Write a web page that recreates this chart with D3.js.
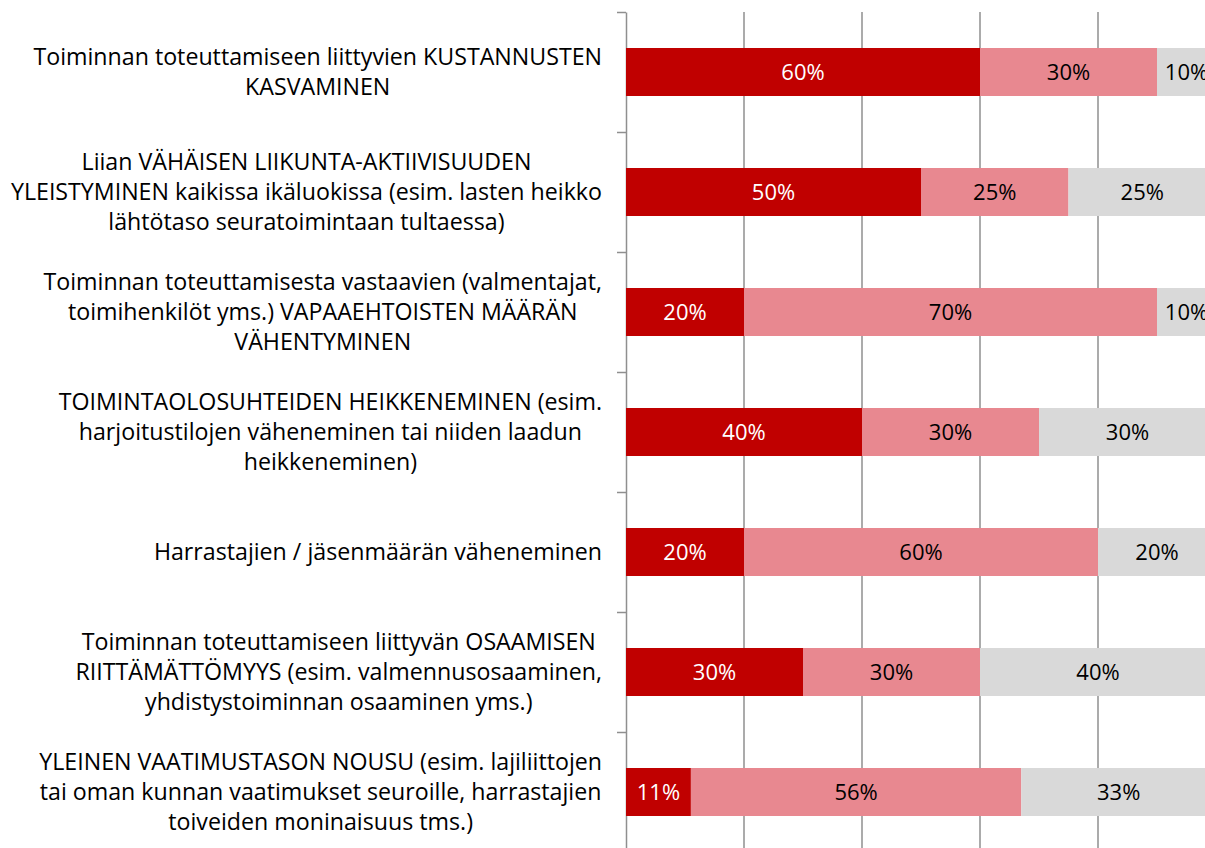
<!DOCTYPE html>
<html>
<head>
<meta charset="utf-8">
<script src="https://cdn.jsdelivr.net/npm/d3@7"></script>
<style>
  body { margin: 0; background: #fff; }
  text { font-family: 'Open Sans', sans-serif; }
</style>
</head>
<body>
<div id="graphs"></div>
<script>
// category labels, one entry per line
const categories = [
    ['Toiminnan toteuttamiseen liittyvien KUSTANNUSTEN', 'KASVAMINEN'],
    ['Liian VÄHÄISEN LIIKUNTA-AKTIIVISUUDEN', 'YLEISTYMINEN kaikissa ikäluokissa (esim. lasten heikko', 'lähtötaso seuratoimintaan tultaessa)'],
    ['Toiminnan toteuttamisesta vastaavien (valmentajat,', 'toimihenkilöt yms.) VAPAAEHTOISTEN MÄÄRÄN', 'VÄHENTYMINEN'],
    ['TOIMINTAOLOSUHTEIDEN HEIKKENEMINEN (esim.', 'harjoitustilojen väheneminen tai niiden laadun', 'heikkeneminen)'],
    ['Harrastajien / jäsenmäärän väheneminen'],
    ['Toiminnan toteuttamiseen liittyvän OSAAMISEN', 'RIITTÄMÄTTÖMYYS (esim. valmennusosaaminen,', 'yhdistystoiminnan osaaminen yms.)'],
    ['YLEINEN VAATIMUSTASON NOUSU (esim. lajiliittojen', 'tai oman kunnan vaatimukset seuroille, harrastajien', 'toiveiden moninaisuus tms.)']
];

const seriesA = [60, 50, 20, 40, 20, 30, 11];
const seriesB = [30, 25, 70, 30, 60, 30, 56];
const seriesC = [10, 25, 10, 30, 20, 40, 33];

const gridTicks = [20, 40, 60, 80, 100];

const width = 1205;
const height = 848;

const colors = ['#c00000', '#e88890', '#d9d9d9'];
const textColors = ['#ffffff', '#000000', '#000000'];

const svg = d3.select('#graphs')
.append('svg')
.attr('width', width)
.attr('height', height);

const x = d3.scaleLinear()
.domain([0, 100])
.range([626, 1216]);

const y = d3.scaleBand()
.domain(d3.range(categories.length))
.range([12, 852])
.paddingInner(0.6)
.paddingOuter(0.3);

// edges between categories, used for the left axis ticks
const yEdge = d3.scaleLinear()
.domain([0, categories.length])
.range([12, 852]);

// gridlines
svg.append('g')
.selectAll('line')
.data(gridTicks)
.join('line')
.attr('x1', d => x(d)).attr('x2', d => x(d))
.attr('y1', yEdge(0)).attr('y2', yEdge(categories.length))
.attr('stroke', '#8f8f8f')
.attr('stroke-width', 1.5);

function yAxis(g){
    g.attr('transform', `translate(${x(0)},0)`)
    .call(d3.axisLeft(yEdge).ticks(categories.length).tickFormat('').tickSize(9).tickSizeOuter(0))
    .call(g => g.selectAll('path, line').attr('stroke', '#8f8f8f').attr('stroke-width', 1.5));
}
svg.append('g').call(yAxis);

// stacked bars
const rows = categories.map((c, i) => ({i: i, vals: [seriesA[i], seriesB[i], seriesC[i]]}));
const segs = [];
rows.forEach(r => {
    let acc = 0;
    r.vals.forEach((v, k) => {
        segs.push({i: r.i, k: k, x0: acc, x1: acc + v, v: v});
        acc += v;
    });
});

svg.append('g')
.selectAll('rect')
.data(segs)
.join('rect')
.attr('x', d => x(d.x0))
.attr('y', d => y(d.i))
.attr('width', d => x(d.x1) - x(d.x0))
.attr('height', y.bandwidth())
.attr('fill', d => colors[d.k]);

svg.append('g')
.selectAll('text')
.data(segs)
.join('text')
.attr('x', d => (x(d.x0) + x(d.x1)) / 2)
.attr('y', d => y(d.i) + y.bandwidth() / 2)
.attr('dy', '0.36em')
.attr('text-anchor', 'middle')
.attr('font-size', '22px')
.attr('fill', d => textColors[d.k])
.text(d => d.v + '%');

// category labels, centred lines in a block ending near the axis
const lineH = 30;
const labels = svg.append('g')
.selectAll('text')
.data(categories)
.join('text')
.attr('font-size', '23.2px')
.attr('fill', '#000')
.attr('text-anchor', 'middle');

labels.each(function(lines, i){
    const t = d3.select(this);
    const cy = y(i) + y.bandwidth() / 2;
    lines.forEach((l, j) => {
        t.append('tspan')
        .attr('y', cy + (j - (lines.length - 1) / 2) * lineH)
        .attr('dy', '0.36em')
        .text(l);
    });
    let maxW = 0;
    t.selectAll('tspan').each(function(){ maxW = Math.max(maxW, this.getComputedTextLength()); });
    t.selectAll('tspan').attr('x', 602 - maxW / 2);
});
</script>
</body>
</html>
